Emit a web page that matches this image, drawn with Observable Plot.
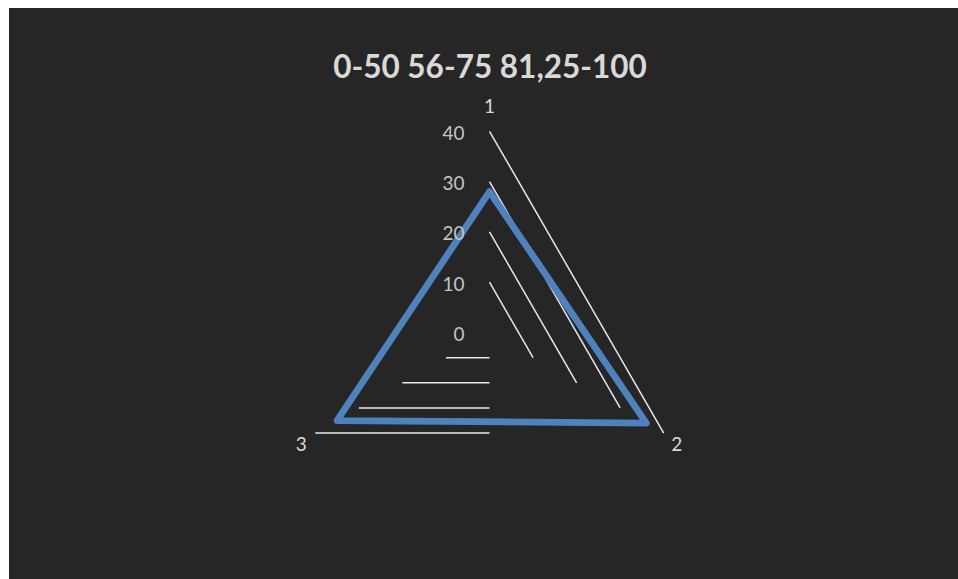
<!DOCTYPE html>
<html>
<head>
<meta charset="utf-8">
<script src="https://cdn.jsdelivr.net/npm/d3@7"></script>
<script src="https://cdn.jsdelivr.net/npm/@observablehq/plot@0.6"></script>
<style>
  html, body { margin: 0; padding: 0; background: #ffffff; }
  #panel { position: absolute; left: 9px; top: 8px; width: 949px; height: 571px; background: #262626; overflow: hidden; }
  #title { position: absolute; left: 481px; top: 40px; transform: translateX(-50%); white-space: nowrap;
           font-family: Lato, "Open Sans", sans-serif; font-weight: 700; font-size: 31.5px; color: #d9d9d9; line-height: 36px; }
  #chart { position: absolute; left: 0; top: 0; }
</style>
</head>
<body>
<div id="panel"><div id="title"></div><div id="chart"></div></div>
<script>
// ---- data ----
const titleText = "0-50 56-75 81,25-100";
const categories = ["1", "2", "3"];
const values = [28, 36, 35];
const tickValues = [0, 10, 20, 30, 40];
const gridLevels = [10, 20, 30, 40];
const maxValue = 40;

document.getElementById("title").textContent = titleText;

// ---- geometry helpers ----
const n = categories.length;
const angle = i => (2 * Math.PI * i) / n; // clockwise from top
const px = (v, i) => v * Math.sin(angle(i));
const py = (v, i) => v * Math.cos(angle(i));

const W = 949, H = 571;
const cx = 480, cy = 324, k = 5.03; // pixels per unit
const series = values.map((v, i) => ({cat: categories[i], value: v, i}));

const labelDx = [0, 13, -14];
const labelDy = [-24, 12, 12];

const marks = [
  Plot.link(gridLevels, {
    x1: L => px(L, 0), y1: L => py(L, 0),
    x2: L => px(L, 1), y2: L => py(L, 1),
    stroke: "#e8e8e8", strokeWidth: 1.5
  }),
  Plot.link(gridLevels, {
    x1: L => 0, y1: L => py(L, 2),
    x2: L => px(L, 2), y2: L => py(L, 2),
    stroke: "#e8e8e8", strokeWidth: 1.5
  }),
  Plot.line(series, {
    x: d => px(d.value, d.i), y: d => py(d.value, d.i),
    curve: "linear-closed",
    stroke: "#4f81bd", strokeWidth: 6.8, strokeLinejoin: "round"
  }),
  Plot.text(tickValues, {
    x: t => 0, y: t => t, text: t => String(t),
    textAnchor: "end", dx: -25, dy: 2.5,
    fill: "#c4c4c4", fontSize: 19, fontFamily: "Lato, 'Open Sans', sans-serif"
  }),
  ...categories.map((c, i) => Plot.text([c], {
    x: () => px(maxValue, i), y: () => py(maxValue, i), text: d => d,
    textAnchor: "middle", dx: labelDx[i], dy: labelDy[i],
    fill: "#d9d9d9", fontSize: 19, fontFamily: "Lato, 'Open Sans', sans-serif"
  }))
];

const chart = Plot.plot({
  width: W, height: H,
  margin: 0,
  style: {background: "transparent", overflow: "visible"},
  x: {type: "linear", domain: [-100, 100], range: [cx - 100 * k, cx + 100 * k], axis: null},
  y: {type: "linear", domain: [-100, 100], range: [cy + 100 * k, cy - 100 * k], axis: null},
  marks
});
document.getElementById("chart").appendChild(chart);
</script>
</body>
</html>
